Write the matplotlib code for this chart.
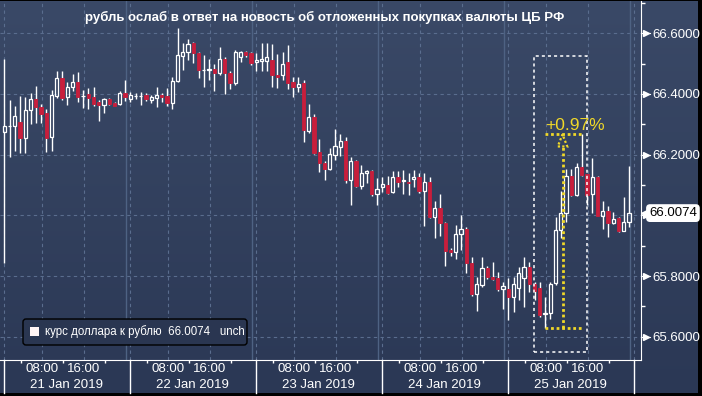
import matplotlib
matplotlib.use('Agg')
import numpy as np
import matplotlib.pyplot as plt
import matplotlib.transforms as mtransforms
from matplotlib.patches import Rectangle, FancyBboxPatch, Polygon
from matplotlib.colors import LinearSegmentedColormap

# hourly USD/RUB candles, 21-25 Jan 2019
opens = [66.276, 66.295, 66.295, 66.308, 66.254, 66.346, 66.383, 66.356, 66.337, 66.259,
         66.394, 66.452, 66.389, 66.422, 66.438, 66.394, 66.399, 66.391, 66.373, 66.364,
         66.384, 66.370, 66.367, 66.402, 66.385, 66.393, 66.392, 66.397, 66.380, 66.387,
         66.396, 66.393, 66.371, 66.444, 66.526, 66.539, 66.567, 66.534, 66.479, 66.479,
         66.484, 66.470, 66.514, 66.470, 66.437, 66.521, 66.537, 66.534, 66.507, 66.510,
         66.510, 66.512, 66.463, 66.463, 66.504, 66.441, 66.424, 66.435, 66.279, 66.323,
         66.208, 66.171, 66.152, 66.199, 66.226, 66.245, 66.116, 66.179, 66.097, 66.138,
         66.146, 66.070, 66.094, 66.100, 66.076, 66.125, 66.112, 66.111, 66.119, 66.125,
         66.081, 66.111, 65.993, 66.023, 65.974, 65.886, 65.878, 65.938, 65.954, 65.842,
         65.741, 65.770, 65.825, 65.798, 65.795, 65.758, 65.756, 65.732, 65.759, 65.792,
         65.831, 65.773, 65.759, 65.675, 65.679, 65.776, 65.952, 66.009, 66.130, 66.067,
         66.158, 66.136, 66.069, 66.125, 65.999, 66.014, 65.976, 65.990, 65.950, 65.977]
highs = [66.514, 66.380, 66.361, 66.393, 66.391, 66.402, 66.426, 66.367, 66.352, 66.413,
         66.476, 66.476, 66.438, 66.466, 66.471, 66.413, 66.419, 66.423, 66.380, 66.388,
         66.388, 66.372, 66.410, 66.446, 66.408, 66.404, 66.406, 66.404, 66.397, 66.424,
         66.402, 66.419, 66.457, 66.616, 66.567, 66.580, 66.572, 66.540, 66.528, 66.514,
         66.499, 66.554, 66.521, 66.477, 66.545, 66.543, 66.543, 66.540, 66.536, 66.569,
         66.569, 66.564, 66.532, 66.537, 66.561, 66.457, 66.457, 66.446, 66.367, 66.334,
         66.252, 66.179, 66.221, 66.283, 66.268, 66.259, 66.193, 66.182, 66.166, 66.149,
         66.149, 66.122, 66.127, 66.130, 66.146, 66.146, 66.149, 66.138, 66.149, 66.138,
         66.138, 66.127, 66.047, 66.072, 65.979, 65.891, 65.968, 66.001, 65.963, 65.864,
         65.796, 65.862, 65.833, 65.845, 65.814, 65.779, 65.792, 65.796, 65.831, 65.862,
         65.847, 65.781, 65.781, 65.732, 65.781, 65.993, 66.081, 66.152, 66.152, 66.171,
         66.267, 66.136, 66.188, 66.130, 66.048, 66.031, 66.012, 65.993, 66.059, 66.163]
lows = [65.842, 66.193, 66.212, 66.204, 66.207, 66.300, 66.303, 66.305, 66.210, 66.212,
        66.388, 66.380, 66.364, 66.411, 66.372, 66.355, 66.349, 66.361, 66.312, 66.338,
        66.364, 66.359, 66.364, 66.377, 66.375, 66.385, 66.364, 66.377, 66.369, 66.356,
        66.375, 66.360, 66.352, 66.440, 66.479, 66.512, 66.501, 66.452, 66.424, 66.446,
        66.411, 66.463, 66.400, 66.416, 66.430, 66.507, 66.523, 66.495, 66.477, 66.476,
        66.477, 66.422, 66.419, 66.446, 66.415, 66.391, 66.408, 66.243, 66.273, 66.202,
        66.144, 66.117, 66.149, 66.182, 66.196, 66.108, 66.034, 66.094, 66.086, 66.108,
        66.064, 66.034, 66.078, 66.070, 66.073, 66.094, 66.072, 66.068, 66.094, 66.075,
        65.966, 65.991, 65.926, 65.932, 65.834, 65.867, 65.857, 65.886, 65.811, 65.735,
        65.686, 65.765, 65.790, 65.787, 65.751, 65.692, 65.655, 65.683, 65.721, 65.697,
        65.748, 65.721, 65.666, 65.630, 65.657, 65.770, 65.924, 65.979, 66.064, 66.065,
        66.130, 66.034, 66.007, 65.998, 65.955, 65.927, 65.972, 65.946, 65.950, 65.963]
closes = [66.295, 66.296, 66.329, 66.254, 66.346, 66.383, 66.356, 66.335, 66.256, 66.396,
          66.452, 66.388, 66.423, 66.438, 66.391, 66.395, 66.388, 66.367, 66.364, 66.384,
          66.367, 66.362, 66.404, 66.391, 66.396, 66.394, 66.393, 66.385, 66.389, 66.396,
          66.389, 66.371, 66.444, 66.528, 66.539, 66.565, 66.534, 66.479, 66.480, 66.484,
          66.470, 66.514, 66.468, 66.437, 66.539, 66.537, 66.528, 66.503, 66.512, 66.515,
          66.521, 66.463, 66.455, 66.499, 66.435, 66.424, 66.433, 66.281, 66.323, 66.204,
          66.171, 66.152, 66.201, 66.229, 66.245, 66.116, 66.179, 66.097, 66.138, 66.146,
          66.070, 66.086, 66.102, 66.073, 66.125, 66.111, 66.116, 66.106, 66.125, 66.081,
          66.111, 65.993, 66.023, 65.974, 65.884, 65.878, 65.938, 65.954, 65.842, 65.741,
          65.774, 65.825, 65.796, 65.790, 65.757, 65.767, 65.732, 65.773, 65.811, 65.831,
          65.774, 65.752, 65.672, 65.679, 65.773, 65.952, 66.009, 66.130, 66.067, 66.158,
          66.133, 66.067, 66.125, 65.999, 66.014, 65.976, 65.987, 65.950, 65.977, 66.0074]
hours = np.arange(len(opens)) + 0.875   # hours since 21 Jan 00:00

day_labels = ['21 Jan 2019', '22 Jan 2019', '23 Jan 2019', '24 Jan 2019', '25 Jan 2019']
time_labels = ['08:00', '16:00']
yticks_major = [65.6, 65.8, 66.0, 66.2, 66.4, 66.6]
yticks_minor = [65.7, 65.9, 66.1, 66.3, 66.5, 66.7]
title = 'рубль ослаб в ответ на новость об отложенных покупках валюты ЦБ РФ'
series_name = 'курс доллара к рублю'
last_price = 66.0074
move_low, move_high = 65.630, 66.267   # yellow measure on 25 Jan
move_x = [103.9, 110.85]
box_x = [101.8, 111.9]
box_y = [65.550, 66.525]

plt.rcParams['font.family'] = ['Liberation Sans', 'DejaVu Sans']

W, H = 702, 396
RED = '#c81e3c'
GRID = '#5a6d8e'
YEL = '#f0d828'

fig = plt.figure(figsize=(W / 100, H / 100), dpi=100, facecolor='black')

# navy gradient background
bg = fig.add_axes([0, 3 / H, 698 / W, 392 / H], zorder=-10)
grad = np.linspace(0, 1, 256).reshape(-1, 1)
cmap = LinearSegmentedColormap.from_list('bg', ['#3a4967', '#2b3855'])
bg.imshow(grad, aspect='auto', cmap=cmap, extent=[0, 1, 0, 1], origin='upper')
bg.axis('off')

ax = fig.add_axes([0, 36 / H, 641 / W, 359 / H], zorder=1)
ax.patch.set_alpha(0)
ax.set_xlim(0.057, 122.15)
ax.set_ylim(65.5232, 66.7065)

# grid
for v in yticks_major:
    ax.axhline(v, color=GRID, lw=0.8, ls=(0, (3, 3)), zorder=0)
for k in range(6):
    for h in (24 * k + 0.8, 24 * k + 8, 24 * k + 16):
        if h < 122:
            ax.axvline(h, color=GRID, lw=0.8, ls=(0, (3, 3)), zorder=0)
    if k > 0:
        ax.axvline(24 * k, color='#4e6283', lw=1.0, zorder=0)

# candles
w = 0.62
for h, o, hi, lo, c in zip(hours, opens, highs, lows, closes):
    top, bot = max(o, c), min(o, c)
    ax.plot([h, h], [top, hi], color='white', lw=1, zorder=2, solid_capstyle='butt')
    ax.plot([h, h], [lo, bot], color='white', lw=1, zorder=2, solid_capstyle='butt')
    if c >= o:
        ax.add_patch(Rectangle((h - w / 2, bot), w, top - bot, fill=False,
                               ec='white', lw=0.9, zorder=3))
    else:
        ax.add_patch(Rectangle((h - w / 2, bot), w, top - bot, fc=RED,
                               ec=RED, lw=0.6, zorder=3))

# white dotted box and yellow measure
ax.add_patch(Rectangle((box_x[0], box_y[0]), box_x[1] - box_x[0], box_y[1] - box_y[0],
                       fill=False, ec='white', lw=1.1, ls=(0, (2, 2)), zorder=4))
ax.plot(move_x, [move_low, move_low], color=YEL, lw=2, ls=(0, (1, 1)), zorder=5)
ax.plot(move_x, [move_high, move_high], color=YEL, lw=2, ls=(0, (1, 1)), zorder=5)
xm = 107.2
head = 0.04
ax.plot([xm, xm], [move_low, move_high - head], color=YEL, lw=2, ls=(0, (1, 1)), zorder=5)
ax.add_patch(Polygon([[xm - 0.9, move_high - head], [xm + 0.9, move_high - head],
                      [xm, move_high]], closed=True, fill=False, ec=YEL, lw=1.6,
                     ls=(0, (1, 1)), zorder=5))
pct = (move_high / move_low - 1) * 100
ax.text(109.5, move_high + 0.004, f'+{pct:.2f}%', color=YEL, fontsize=12.5,
        ha='center', va='bottom', zorder=6)

# spines
for s in ('left', 'top'):
    ax.spines[s].set_visible(False)
ax.spines['right'].set_color('white')
ax.spines['bottom'].set_color('white')

# y axis on the right (66.0000 sits under the last-price box, so no label there)
ax.yaxis.tick_right()
ax.set_yticks(yticks_major)
ax.set_yticklabels(['' if v == 66.0 else f'{v:.4f}' for v in yticks_major])
ax.set_yticks(yticks_minor, minor=True)
ax.tick_params(axis='y', which='major', length=0, pad=8, labelsize=9.5, labelcolor='white')
ax.tick_params(axis='y', which='minor', length=3, width=1, color='white', direction='out')
tri = mtransforms.blended_transform_factory(ax.transAxes, ax.transData)
ax.plot([1.0 + 5 / 641] * len(yticks_major), yticks_major, transform=tri, ls='none',
        marker='>', ms=5, color='white', mec='white', clip_on=False, zorder=6)
for v in yticks_major:
    ax.plot([1.0, 1.0 + 9 / 641], [v, v], transform=tri, color='white', lw=0.8,
            clip_on=False)

# last price box
ax.plot([1.0 + 4 / 641], [last_price], transform=tri, marker='<', ms=6, color='white',
        clip_on=False, zorder=7)
ax.text(1.0 + 8 / 641, last_price, f'{last_price:.4f}', transform=tri, fontsize=9.5,
        color='black', va='center', ha='left', zorder=8,
        bbox=dict(boxstyle='round,pad=0.22,rounding_size=0.3', fc='white', ec='none'))

# x axis
major_x = [24 * k + h for k in range(5) for h in (8, 16)]
ax.set_xticks(major_x)
ax.set_xticklabels(time_labels * 5)
ax.set_xticks([24 * k + h for k in range(6) for h in (4, 12, 20) if 24 * k + h < 122], minor=True)
ax.tick_params(axis='x', which='major', length=0, pad=2.5, labelsize=9.5, labelcolor='white')
ax.tick_params(axis='x', which='minor', length=2.5, width=1, color='white', direction='out')
xb = mtransforms.blended_transform_factory(ax.transData, ax.transAxes)
for k in range(6):
    ax.plot([24 * k + 0.8] * 2, [0, -33 / 359], transform=xb, color='white', lw=1,
            clip_on=False)
for k, lab in enumerate(day_labels):
    ax.text(24 * k + 12.8, -19.5 / 359, lab, transform=xb, color='white', fontsize=9.5,
            ha='center', va='top')

# overlay in pixel units for title and legend
ov = fig.add_axes([0, 0, 1, 1], zorder=5)
ov.set_xlim(0, W)
ov.set_ylim(H, 0)
ov.axis('off')
ov.text(325, 17, title, color='white', fontsize=9.5, fontweight='bold',
        ha='center', va='center')
ov.add_patch(FancyBboxPatch((23, 319), 224, 26, boxstyle='round,pad=0,rounding_size=3',
                            fc='#2a3651', ec='black', lw=1))
ov.add_patch(Rectangle((30, 327), 9, 9, fc='#fff4f4', ec='none'))
ov.text(45, 332, f'{series_name}  {last_price:.4f}   unch', color='white', fontsize=8.3,
        ha='left', va='center')

fig.savefig('out.png', dpi=100, facecolor='black')
